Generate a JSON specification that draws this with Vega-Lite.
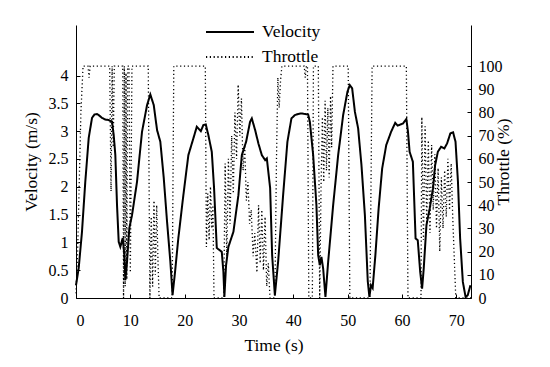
{
  "$schema": "https://vega.github.io/schema/vega-lite/v6.json",
  "width": 395,
  "height": 273,
  "autosize": {"type": "none"},
  "padding": {"left": 76, "top": 25, "right": 79, "bottom": 69},
  "background": "white",
  "config": {
    "font": "Liberation Serif, Times New Roman, serif",
    "view": {"stroke": null},
    "axis": {
      "labelFont": "Liberation Serif, Times New Roman, serif",
      "titleFont": "Liberation Serif, Times New Roman, serif",
      "labelFontSize": 16,
      "titleFontSize": 17.5,
      "titleFontWeight": "normal",
      "labelColor": "black",
      "titleColor": "black",
      "domainColor": "black",
      "tickColor": "black",
      "grid": false,
      "tickSize": -4
    }
  },
  "datasets": {
    "vel": [
      {"t": 0, "v": 0.23}, {"t": 0.5, "v": 0.54}, {"t": 1.1, "v": 1.19}, {"t": 1.71, "v": 2.09},
      {"t": 2.34, "v": 2.88}, {"t": 2.95, "v": 3.24}, {"t": 3.4, "v": 3.3}, {"t": 3.87, "v": 3.31},
      {"t": 4.3, "v": 3.28}, {"t": 4.79, "v": 3.24}, {"t": 5.4, "v": 3.21}, {"t": 6.02, "v": 3.2},
      {"t": 6.63, "v": 3.17}, {"t": 6.94, "v": 2.93}, {"t": 7.24, "v": 2.57}, {"t": 7.55, "v": 1.67},
      {"t": 7.86, "v": 1.01}, {"t": 8.16, "v": 0.92}, {"t": 8.6, "v": 1.08}, {"t": 8.9, "v": 0.77},
      {"t": 9.08, "v": 0.32}, {"t": 9.39, "v": 0.65}, {"t": 9.82, "v": 1.26}, {"t": 10.31, "v": 1.49},
      {"t": 11.23, "v": 2.09}, {"t": 12.15, "v": 2.99}, {"t": 13.08, "v": 3.47}, {"t": 13.68, "v": 3.66},
      {"t": 14.31, "v": 3.47}, {"t": 14.92, "v": 3.02}, {"t": 15.52, "v": 2.81}, {"t": 16.15, "v": 2.16},
      {"t": 16.76, "v": 1.37}, {"t": 17.37, "v": 0.65}, {"t": 17.77, "v": 0.05}, {"t": 18.23, "v": 0.47},
      {"t": 18.84, "v": 1.08}, {"t": 19.76, "v": 1.85}, {"t": 20.68, "v": 2.57}, {"t": 21.6, "v": 2.87},
      {"t": 22.23, "v": 3.08}, {"t": 22.97, "v": 3.0}, {"t": 23.44, "v": 3.11}, {"t": 23.89, "v": 3.12},
      {"t": 24.36, "v": 2.93}, {"t": 24.99, "v": 2.63}, {"t": 25.41, "v": 1.98}, {"t": 25.91, "v": 0.9},
      {"t": 26.83, "v": 0.83}, {"t": 27.13, "v": 0.47}, {"t": 27.31, "v": 0.02}, {"t": 27.62, "v": 0.59},
      {"t": 28.05, "v": 0.92}, {"t": 28.97, "v": 1.19}, {"t": 29.89, "v": 1.85}, {"t": 30.52, "v": 2.57},
      {"t": 31.31, "v": 2.81}, {"t": 32.04, "v": 3.17}, {"t": 32.36, "v": 3.23}, {"t": 32.97, "v": 3.02},
      {"t": 33.57, "v": 2.78}, {"t": 34.2, "v": 2.57}, {"t": 34.81, "v": 2.48}, {"t": 35.12, "v": 2.51},
      {"t": 35.73, "v": 1.98}, {"t": 36.1, "v": 0.77}, {"t": 36.6, "v": 0.05}, {"t": 37.2, "v": 0.65},
      {"t": 38.12, "v": 1.85}, {"t": 38.91, "v": 2.81}, {"t": 39.65, "v": 3.23}, {"t": 40.28, "v": 3.29},
      {"t": 40.9, "v": 3.31}, {"t": 41.49, "v": 3.32}, {"t": 42.1, "v": 3.31}, {"t": 42.73, "v": 3.3},
      {"t": 43.04, "v": 3.17}, {"t": 43.65, "v": 2.57}, {"t": 44.25, "v": 1.67}, {"t": 44.57, "v": 0.77},
      {"t": 44.88, "v": 0.59}, {"t": 45.17, "v": 0.74}, {"t": 45.49, "v": 0.53}, {"t": 45.91, "v": 0.02},
      {"t": 46.41, "v": 0.65}, {"t": 47.33, "v": 1.67}, {"t": 48.25, "v": 2.57}, {"t": 49.17, "v": 3.29},
      {"t": 49.96, "v": 3.71}, {"t": 50.4, "v": 3.83}, {"t": 50.83, "v": 3.77}, {"t": 51.33, "v": 3.35},
      {"t": 51.93, "v": 3.05}, {"t": 52.54, "v": 2.39}, {"t": 53.17, "v": 1.49}, {"t": 53.7, "v": 0.3},
      {"t": 54.0, "v": 0.02}, {"t": 54.3, "v": 0.23}, {"t": 54.6, "v": 0.18}, {"t": 55.1, "v": 0.77},
      {"t": 55.7, "v": 1.61}, {"t": 56.35, "v": 2.33}, {"t": 57.1, "v": 2.75}, {"t": 58.0, "v": 2.99},
      {"t": 58.75, "v": 3.15}, {"t": 59.2, "v": 3.1}, {"t": 60.2, "v": 3.14}, {"t": 60.8, "v": 3.22},
      {"t": 61.1, "v": 2.99}, {"t": 61.4, "v": 2.63}, {"t": 62.0, "v": 2.45}, {"t": 62.5, "v": 1.07},
      {"t": 62.9, "v": 1.04}, {"t": 63.35, "v": 0.47}, {"t": 63.7, "v": 0.17}, {"t": 64.0, "v": 0.53},
      {"t": 64.5, "v": 1.31}, {"t": 65.1, "v": 1.61}, {"t": 65.7, "v": 1.97}, {"t": 66.1, "v": 2.39},
      {"t": 66.6, "v": 2.63}, {"t": 67.2, "v": 2.72}, {"t": 67.8, "v": 2.69}, {"t": 68.3, "v": 2.78},
      {"t": 68.9, "v": 2.96}, {"t": 69.4, "v": 2.98}, {"t": 69.85, "v": 2.81}, {"t": 70.3, "v": 2.09},
      {"t": 70.7, "v": 1.07}, {"t": 71.2, "v": 0.29}, {"t": 71.7, "v": 0.02}, {"t": 72.1, "v": 0.05},
      {"t": 72.6, "v": 0.23}
    ],
    "thr": [
      {"t": 0, "p": 2}, {"t": 0.3, "p": 20}, {"t": 0.6, "p": 50}, {"t": 0.9, "p": 80}, {"t": 1.3, "p": 100},
      {"t": 2.2, "p": 100}, {"t": 2.4, "p": 95}, {"t": 2.6, "p": 100}, {"t": 6.2, "p": 100}, {"t": 6.45, "p": 46},
      {"t": 6.65, "p": 100}, {"t": 6.85, "p": 65}, {"t": 7.05, "p": 100}, {"t": 8.6, "p": 100}, {"t": 8.75, "p": 0},
      {"t": 8.9, "p": 100}, {"t": 9.05, "p": 5}, {"t": 9.2, "p": 97}, {"t": 9.35, "p": 8}, {"t": 9.5, "p": 100},
      {"t": 9.75, "p": 100}, {"t": 10.0, "p": 11}, {"t": 10.3, "p": 100},
      {"t": 13.3, "p": 100}, {"t": 13.6, "p": 0}, {"t": 13.85, "p": 35}, {"t": 14.1, "p": 5}, {"t": 14.35, "p": 42},
      {"t": 14.6, "p": 10}, {"t": 14.85, "p": 40}, {"t": 15.1, "p": 15}, {"t": 15.3, "p": 0},
      {"t": 17.7, "p": 0}, {"t": 18.0, "p": 100}, {"t": 23.8, "p": 100}, {"t": 24.0, "p": 22}, {"t": 24.25, "p": 45},
      {"t": 24.5, "p": 25}, {"t": 24.75, "p": 48}, {"t": 25.0, "p": 30}, {"t": 25.2, "p": 40},
      {"t": 25.4, "p": 0}, {"t": 27.2, "p": 0}, {"t": 27.45, "p": 58}, {"t": 27.75, "p": 18}, {"t": 28.05, "p": 60},
      {"t": 28.35, "p": 32}, {"t": 28.65, "p": 70}, {"t": 28.95, "p": 45}, {"t": 29.25, "p": 80}, {"t": 29.55, "p": 60},
      {"t": 29.85, "p": 92}, {"t": 30.15, "p": 70}, {"t": 30.45, "p": 86}, {"t": 30.75, "p": 55}, {"t": 31.05, "p": 66},
      {"t": 31.35, "p": 42}, {"t": 31.65, "p": 50}, {"t": 31.95, "p": 32}, {"t": 32.25, "p": 38},
      {"t": 32.6, "p": 18}, {"t": 32.9, "p": 28}, {"t": 33.3, "p": 11},
      {"t": 33.6, "p": 40}, {"t": 33.9, "p": 15}, {"t": 34.2, "p": 38}, {"t": 34.5, "p": 12}, {"t": 34.8, "p": 35},
      {"t": 35.1, "p": 5}, {"t": 35.4, "p": 15}, {"t": 35.7, "p": 0}, {"t": 36.6, "p": 0}, {"t": 36.9, "p": 60},
      {"t": 37.15, "p": 95}, {"t": 37.4, "p": 82}, {"t": 37.65, "p": 94}, {"t": 37.9, "p": 100},
      {"t": 42.0, "p": 100}, {"t": 42.2, "p": 95}, {"t": 42.4, "p": 100}, {"t": 42.6, "p": 100}, {"t": 42.85, "p": 0},
      {"t": 43.5, "p": 0}, {"t": 43.7, "p": 100}, {"t": 44.6, "p": 100}, {"t": 44.85, "p": 0}, {"t": 45.1, "p": 48},
      {"t": 45.35, "p": 78}, {"t": 45.6, "p": 50}, {"t": 45.85, "p": 85}, {"t": 46.1, "p": 55}, {"t": 46.35, "p": 82},
      {"t": 46.6, "p": 52}, {"t": 46.85, "p": 87}, {"t": 47.05, "p": 65}, {"t": 47.3, "p": 100},
      {"t": 50.1, "p": 100}, {"t": 50.4, "p": 0}, {"t": 54.1, "p": 0}, {"t": 54.5, "p": 100}, {"t": 60.8, "p": 100},
      {"t": 61.1, "p": 0}, {"t": 63.5, "p": 0}, {"t": 63.65, "p": 78}, {"t": 63.95, "p": 25}, {"t": 64.25, "p": 74},
      {"t": 64.55, "p": 32}, {"t": 64.85, "p": 68}, {"t": 65.15, "p": 28}, {"t": 65.45, "p": 66},
      {"t": 65.75, "p": 38}, {"t": 66.05, "p": 62}, {"t": 66.35, "p": 30}, {"t": 66.65, "p": 56},
      {"t": 66.95, "p": 20}, {"t": 67.25, "p": 52}, {"t": 67.55, "p": 30}, {"t": 67.85, "p": 55},
      {"t": 68.15, "p": 35}, {"t": 68.45, "p": 60}, {"t": 68.75, "p": 38}, {"t": 69.05, "p": 58},
      {"t": 69.35, "p": 34}, {"t": 69.9, "p": 0},
      {"t": 72.7, "p": 0}
    ]
  },
  "layer": [
    {
      "data": {"name": "vel"},
      "mark": {"type": "line", "color": "black", "strokeWidth": 2},
      "encoding": {
        "x": {
          "field": "t", "type": "quantitative",
          "scale": {"domain": [0, 72.7], "nice": false},
          "axis": {"values": [0, 10, 20, 30, 40, 50, 60, 70], "title": "Time (s)", "labelPadding": 18, "titlePadding": 8}
        },
        "y": {
          "field": "v", "type": "quantitative",
          "scale": {"domain": [0, 4.91], "nice": false},
          "axis": {"orient": "left", "values": [0, 0.5, 1, 1.5, 2, 2.5, 3, 3.5, 4], "format": "~g", "title": "Velocity (m/s)", "labelPadding": 12, "titlePadding": 8}
        },
        "strokeDash": {
          "datum": "Velocity", "type": "nominal",
          "scale": {"domain": ["Velocity", "Throttle"], "range": [[1, 0], [1.2, 2.6]]},
          "legend": {
            "orient": "none", "legendX": 129, "legendY": -5.5, "title": null,
            "symbolType": "stroke", "symbolSize": 2304, "symbolStrokeWidth": 2,
            "symbolStrokeColor": "black", "clipHeight": 25, "rowPadding": 0,
            "labelFont": "Liberation Serif, Times New Roman, serif", "labelFontSize": 17.5, "labelOffset": 7,
            "labelColor": "black", "padding": 0
          }
        }
      }
    },
    {
      "data": {"name": "thr"},
      "mark": {"type": "line", "color": "black", "strokeWidth": 1.3},
      "encoding": {
        "x": {"field": "t", "type": "quantitative"},
        "y": {
          "field": "p", "type": "quantitative",
          "scale": {"domain": [0, 117.7], "nice": false},
          "axis": {"orient": "right", "values": [0, 10, 20, 30, 40, 50, 60, 70, 80, 90, 100], "title": "Throttle (%)", "titleAngle": 270, "labelPadding": 11, "titlePadding": 10}
        },
        "strokeDash": {"datum": "Throttle", "type": "nominal"}
      }
    }
  ],
  "resolve": {"scale": {"y": "independent"}}
}
